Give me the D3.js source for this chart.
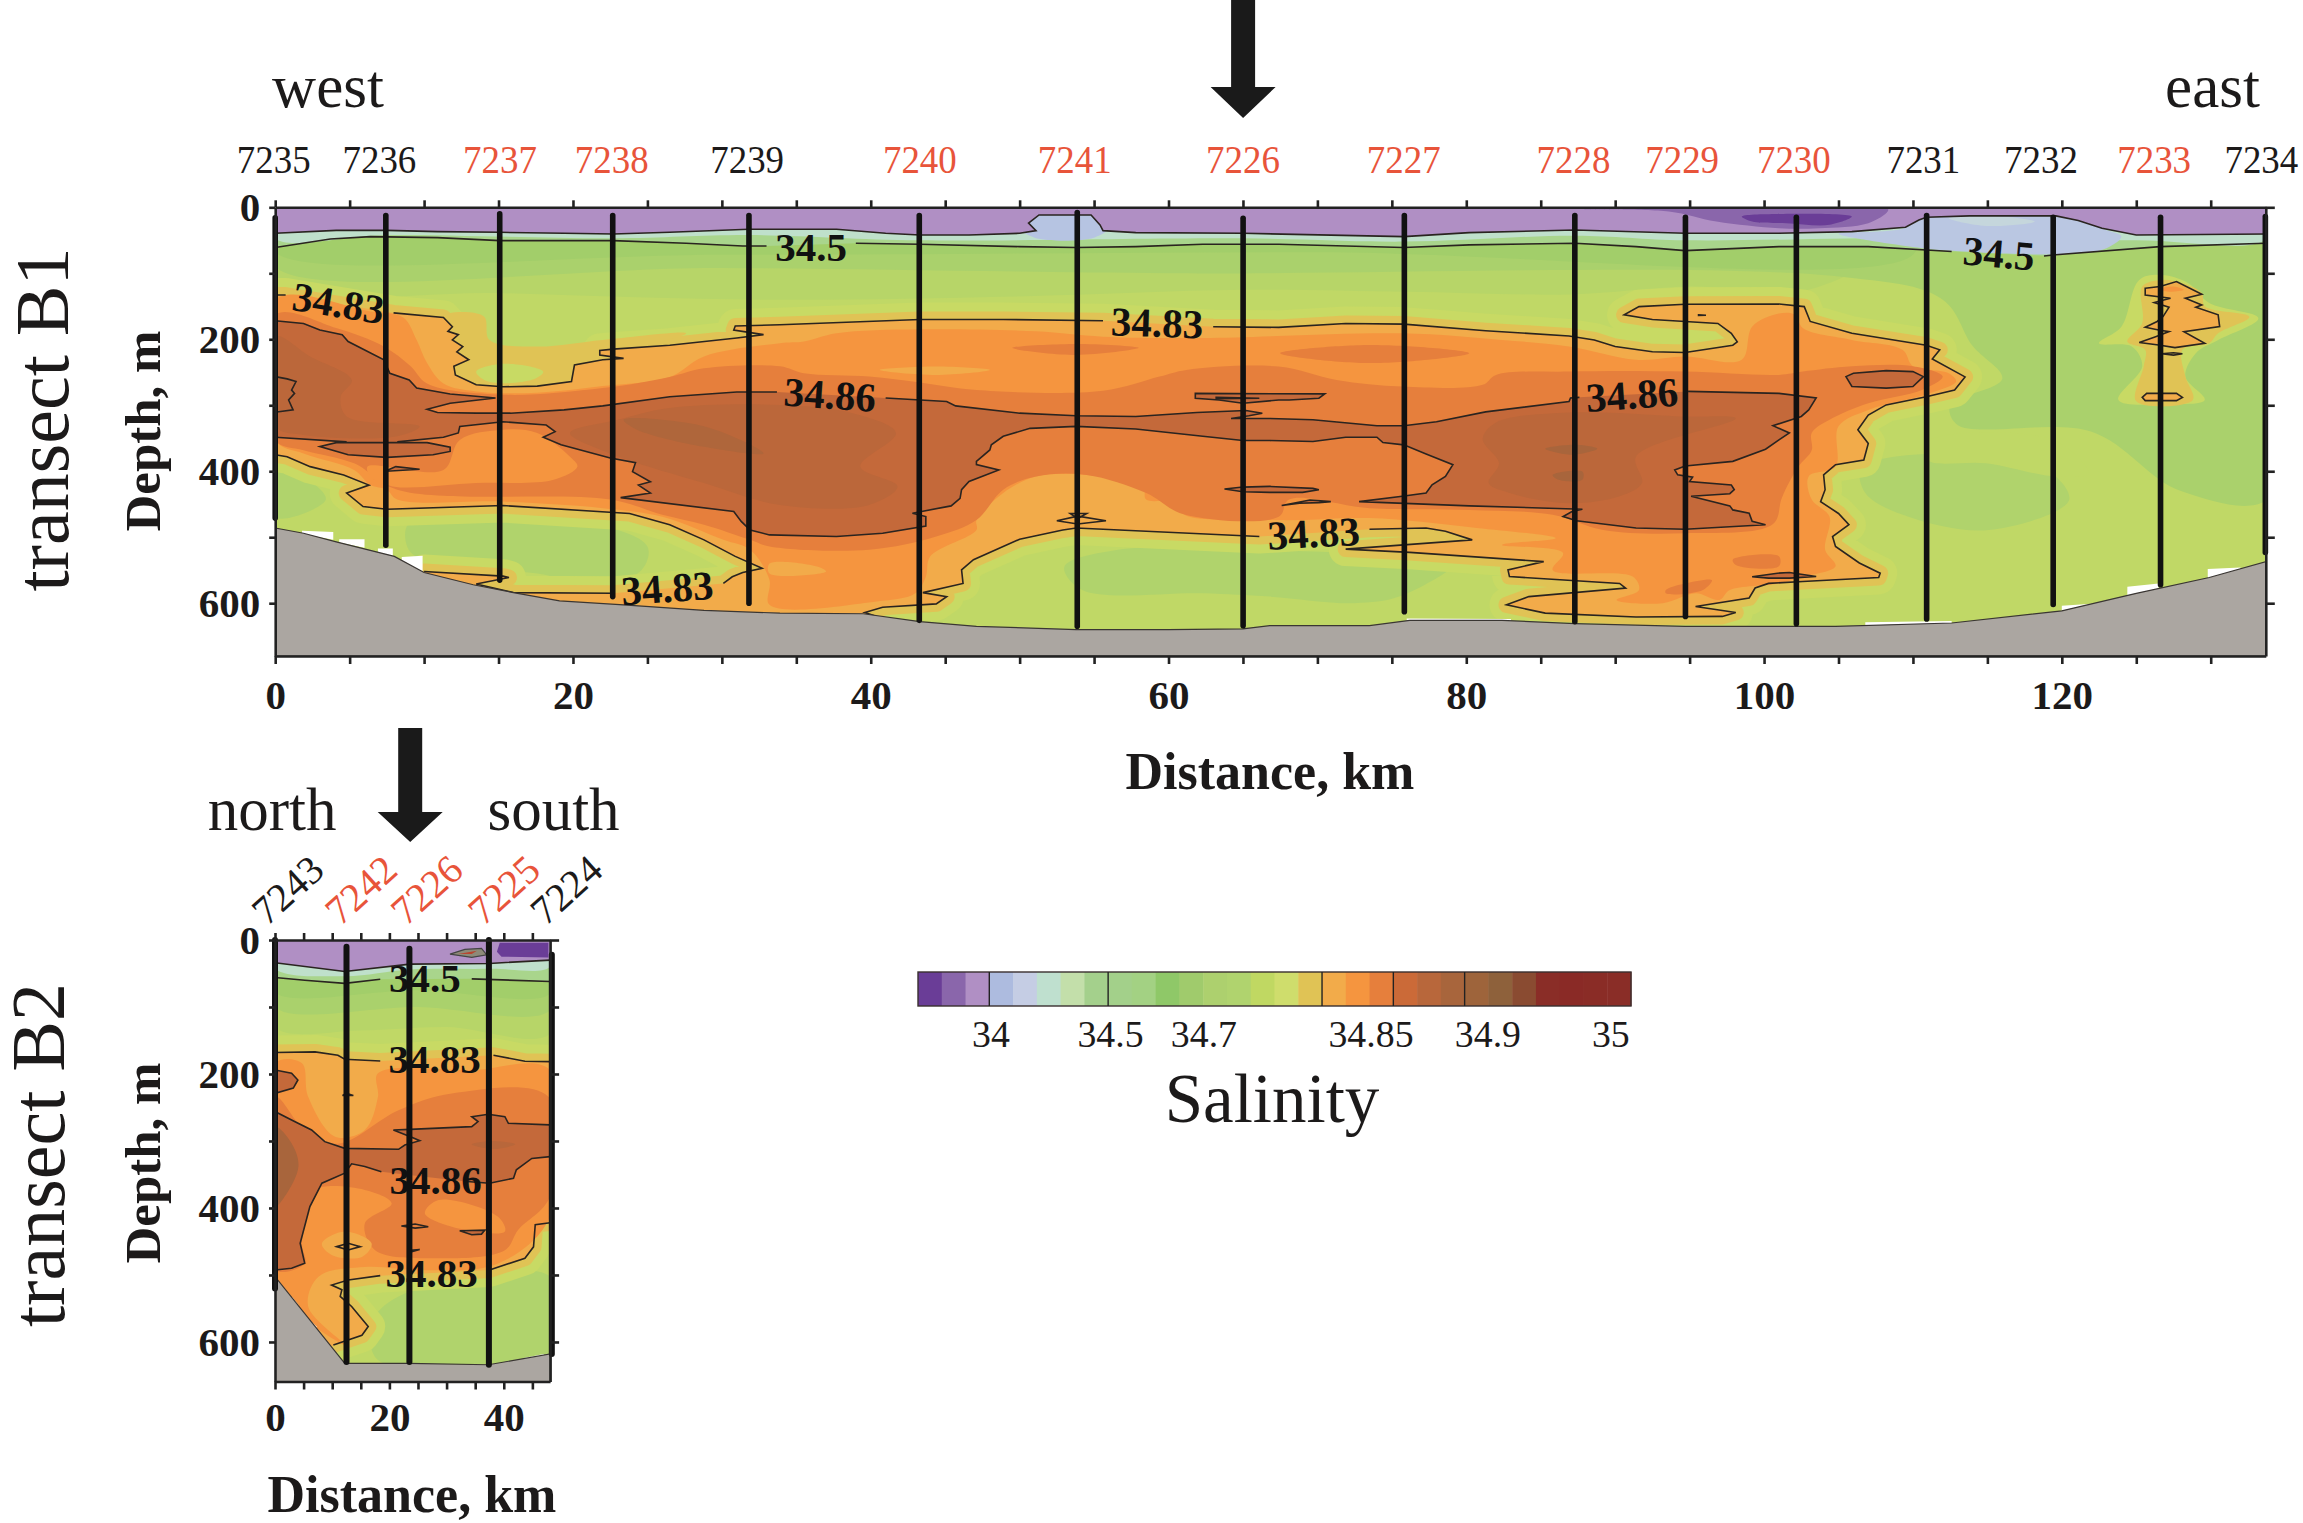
<!DOCTYPE html>
<html><head><meta charset="utf-8">
<script src="https://cdn.jsdelivr.net/npm/d3@7"></script>
<style>html,body{margin:0;padding:0;background:#fff}svg{display:block}text{font-family:"Liberation Serif",serif}</style>
</head><body><svg id="c" width="2303" height="1523"></svg>
<script>
// ---------- legend ----------
const legendColors=["#6a3d97","#8a66ab","#b08fc4","#adbbdf","#c5cde4","#bfe0cf","#c3dfaa","#a4d08c","#a3d08a","#a3d183","#8fc868","#a0cb6c","#add06e","#b0d36e","#c0d862","#cfdd6c","#e0c355","#f2ab4a","#f5953f","#e67f3c","#cb6a38","#b8673b","#a8653c","#9e643b","#8e613b","#8a4b31","#8a2d27","#8a2a26","#8a2c26","#8a2d27"];
const legendDividers=[3,8,17,20,23];
const legendTickIdx=[3.07,8.1,12.03,19.06,23.98,29.15];
const legendTickLabels=["34","34.5","34.7","34.85","34.9","35"];
// ---------- transect B1: stations ----------
const b1Stations=[7235,7236,7237,7238,7239,7240,7241,7226,7227,7228,7229,7230,7231,7232,7233,7234];
const b1Red=[0,0,1,1,0,1,1,1,1,1,1,1,0,0,1,0];
const b1StationKm=[0,7.43,15.08,22.67,31.82,43.26,53.87,65.01,75.84,87.29,94.72,102.17,110.92,119.42,126.63,133.67];
const b1LabelKm=[-0.1,7.0,15.1,22.6,31.7,43.3,53.7,65.0,75.8,87.2,94.5,102.0,110.7,118.6,126.2,133.4];
const b1CastTop=[16,12.6,10,12.6,12.6,12.6,8,16.6,12.6,12.6,15,15,12.6,15,15,14];
const b1CastBottom=[471,512,565,590,600,626,635,634,613,628,620,631,624,602,572,523];
const b1Bathy=[[0,486],[1.9,494],[4.1,507],[8,529],[10,553.5],[13.3,572],[16,584],[19.1,596.5],[23.4,602.5],[28.8,611],[33.9,615],[39.5,616],[43.3,628],[47.1,635],[53.8,640],[60,640],[65,639],[66.8,634],[73.5,634],[76.2,626],[82.4,626],[87.3,631],[94.7,635],[101,635],[104.8,635],[112.6,630],[120,611.6],[125,585],[129.9,561],[133.7,537]];
const b1Gaps=[[[1.8,490],[3.9,492],[3.9,504],[1.8,495]],[[4.3,503],[6,503],[6,516],[4.3,508]],[[6.9,517],[7.9,517],[7.9,530],[6.9,525]],[[8.5,530],[9.9,528],[9.9,555],[8.5,540]],[[129.8,548],[132,546],[132,552],[129.8,565]],[[124.4,575],[126.5,570],[126.5,580],[124.4,590]],[[120,604],[122,601],[122,604],[120,613]],[[106.8,629],[112.6,627],[112.6,632],[106.8,636]],[[76,623],[83,624],[83,628],[76,628]]];
// ---------- B1 isolines (km, depth m), broken at the in-line labels ----------
const b1Iso50A=[[0,61],[3.7,48],[6.4,44.4],[10.9,46],[15.1,50.5],[22.7,50.5],[27.6,54.5],[31.4,58.6],[33,58.6]];
const b1Iso50B=[[39,54.5],[43.3,56],[50,59.6],[53.8,61],[57.8,59.6],[62.3,56],[67.4,56],[75.8,61],[80.2,57],[87.3,54.5],[91.4,59.6],[94.7,65.7],[101,59.6],[107,59.6],[110.9,64.6],[112.6,67]];
const b1Iso50C=[[118.8,73.7],[119.6,72],[126.6,59.6],[133.7,54.5]];
const b1Surface=[[0,39.4],[4.1,35],[7.5,35],[10.9,36.9],[15.1,37.9],[19.4,39.4],[22.7,40.4],[26.5,37.9],[31.8,33.3],[37.7,33.3],[41,39.4],[43.3,42],[46.6,42],[50,39.4],[51.1,35.4],[50.6,24],[51.3,11.6],[54.8,11.6],[55.4,26.8],[55.6,35.4],[57.8,38.4],[65,39.4],[75.8,44.4],[80.2,38.4],[87.3,34.3],[94.7,39.4],[101,39.4],[105.9,36.9],[109.5,30.3],[110.4,19.2],[110.9,15],[113.8,13],[119.6,13],[121.1,20],[122.7,31.8],[125,41.9],[133.7,40.4]];
const b1Pale=[[0,47],[7.5,42],[22.7,47],[31.8,42],[43.3,50],[65,47],[75.8,52],[87.3,43],[94.7,50],[110,46],[125,50],[133.7,48]];
const b1A=[[0,133],[0.7,133]];
const b1B=[[7.95,160],[11.3,167],[11.9,181],[11.6,188],[12.3,193],[11.9,201],[12.6,211],[12.2,219],[13,231],[12,241],[12.1,254],[13.5,269],[15.3,272],[17.6,271],[19.9,264],[20.1,239],[22,231],[23.4,229],[21.8,224],[21.8,217],[22.7,215],[26.5,209],[31,198],[32.8,193],[30.8,186],[30.9,180],[33.9,178],[43.3,170],[48.9,170],[55.6,172]];
const b1C=[[63,181],[67.4,182],[71.9,176],[75.8,177],[81.3,187],[86.9,195],[88.6,201],[90,211],[92.5,219],[94.7,220],[97.9,209],[98.2,204],[97.8,191],[96.9,176],[92.5,170],[90.6,163],[91.6,150.5],[94.7,147],[101,146.5],[102.7,150.5],[103.1,173],[105.9,191],[110.9,209],[111.8,216],[111.3,230],[113.5,257],[112.8,277],[110.9,287],[108.2,299.5],[107,315],[106.3,337],[107,358],[106.7,383],[104.8,390],[104,405.5],[104.1,428],[103.8,446],[105,464],[105.7,481],[104.6,499],[104.8,514],[106.4,539],[107.8,554.5],[107.7,561],[102.6,567],[100.3,570],[99.4,577],[99,592],[95.4,605],[98.1,614],[97.2,620],[91.4,621],[85.3,615],[82.7,602.5],[84.2,590],[90.7,577],[90.3,570],[82.9,559.6],[82.8,549.5],[85.2,537],[76.2,523],[71.9,518],[80.4,504],[78.6,491],[77.3,486],[73.5,488]];
const b1D=[[66.1,499],[56.7,489],[53.8,486],[52.9,489],[50,503],[46.9,534],[46.1,549.5],[46.2,570],[43.5,584],[45.1,590],[44.4,601],[40.8,606],[39.6,614],[40.4,620]];
const b1BedClosure=[[40,655],[9,655]];
const b1E=[[10,552],[15.3,559],[15.7,561],[13.5,571],[16,584],[22.7,585]];
const b1F=[[30.1,570],[30.7,560],[31.4,553.5],[32.7,547],[30.9,529],[28.8,504],[26.5,481],[23.8,464],[15.3,452],[7.5,457.6],[5.9,453.5],[4.8,433],[6.3,421],[4.6,405.6],[2.35,393],[0.8,378],[0,375]];
const b1H=[[0,172],[1.9,176],[3,186],[4.5,193],[4.9,203.5],[7.3,231],[7.7,251.5],[9,261.6],[9.5,274],[11.75,283],[14.8,289],[11.75,297],[10.2,306],[10.9,311],[13.5,312],[15.8,312],[19.4,307],[22,301],[26.5,287],[31,280],[33.7,280]];
const b1J=[[41,289],[45.1,294.4],[45.7,301],[50,312],[53.8,316],[57.8,317],[61.9,311],[65.2,308],[66.3,312],[65.4,316],[64.2,320],[66.8,320],[69.7,322],[74,331],[75.8,331],[78,325],[81.3,310],[86.9,294.4],[87,289],[87.6,288]];
const b1K=[[94.9,279],[101,282],[103.5,289],[103,307],[102.5,317],[100.6,331],[101.7,342],[101,352.5],[100.1,366.7],[97.9,385],[94.7,392],[94,398],[94.2,405.5],[95.2,409],[95,415.6],[97.8,420.7],[98,428],[97.7,434],[95.1,438],[97.7,452.5],[97.9,458.6],[99,463.6],[99.2,476],[100.1,481],[94.7,488],[91.4,486],[87.4,475],[86.5,468.7],[87.1,461],[87.8,457.6],[80.2,452.5],[72.8,446],[75.7,438],[77.3,433],[77.7,420.7],[78.6,408],[79.1,390],[77.3,374],[75.8,360],[74.4,356.6],[74,348.5],[71.9,348.5],[69.7,355],[66.8,353.5],[65,353.5],[62.3,347],[57.8,336],[53.8,332],[50.7,335],[48.9,347],[48.1,360],[48,367.7],[47.1,385],[47.1,390],[48.6,398],[46.6,415.6],[46.1,428],[46,441],[45.4,452.5],[42.8,463.6],[43.7,468.7],[43.7,483],[40.8,494],[37.7,499],[33.2,496.5],[31.9,489],[31.3,476],[30.8,461],[23.2,440],[25.2,433],[24.4,421],[25.2,416],[24,400.5],[24.2,387],[22.5,380],[19.2,360],[18,348.5],[18.8,340],[18.2,330],[15.3,325],[12.4,332],[12.3,342],[11.3,348.5],[8.2,355.5]];
const b1Lens=[[10.2,356.6],[11.75,363.6],[11.75,370],[10.6,375],[7.5,379],[4.9,375],[3,362.6],[4.1,356.6]];
const b1L=[[4.8,355.5],[0,348.5]];
const b1Core=[[0,256.6],[0.8,260],[1.4,264],[1.1,277],[1.3,282],[0.9,292],[1.2,307],[0,310.6]];
const b1Small86=[
 [[7.5,399],[8.1,393],[9.7,397],[7.5,400]],
 [[61.8,282],[61.8,289.4],[63.4,292],[65,297],[67.4,292],[68.1,292],[70.1,289.4],[70.5,282.8]],
 [[63.76,427],[65,424],[66.8,423],[69.7,426],[70.1,428],[69,432],[66.8,432],[65,431]],
 [[67.6,452],[69.5,443.5],[70.9,446],[70.1,447.5],[68.8,448.5]],
 [[105.5,256.6],[106,251.5],[108.2,247.5],[110,249],[110.7,256.6],[110,271.6],[108.2,274],[105.9,271.6]],
 [[99.2,560],[100.9,554.5],[101.7,553.5],[103.5,559.6],[101.7,562],[100.3,562]]];
const b1SmallLines=[[[63.2,288],[66.1,289.4],[63.2,290]],[[52.5,475],[53.9,468],[55.8,475],[53.9,480]],[[53.4,464],[54.5,464],[53.9,471.6]],[[95.6,163],[96.1,163.6],[95.6,163.8]]];
const b1East83=[[125.6,122.7],[126.6,120],[127.7,112.6],[129.4,131.8],[128.3,137.9],[129.4,148],[129,151.5],[130.5,163],[130.6,180.8],[128.2,188.4],[129.6,206],[127.6,212.6],[126.5,208.6],[125.2,205],[126.3,196],[127.2,188.4],[126.5,186],[125.6,181.8],[126.4,173],[126.8,165.6],[127.2,151.5],[126.2,144.4],[127.3,137.9],[125.6,132.8]];
const b1East83B=[[125.4,288],[125.7,282],[127.7,282],[128.1,288],[127.7,293],[125.6,293]];
const b1East83C=[[126.7,222],[127.5,220.5],[128.1,222],[127.5,224]];
// ---------- B1 colour bands, [colour, outline] painted back to front ----------
const b1BackBands=[
 ["#b7d568",[[0,30],[110,30],[103,125],[95,120],[87,132],[76,128],[65,125],[50,135],[33,140],[15,130],[0,118]]],
 ["#aad16c",[[0,30],[134,30],[134,440],[128,430],[122,340],[113,330],[112.5,300],[116,260],[114,210],[112,140],[105,105],[60,100],[30,92],[0,90]]],
 ["#a2ce6a",[[0,30],[110,30],[110,72],[70,68],[30,72],[0,68]]],
 ["#b0d36c",[[106.6,393],[118.2,388],[120.5,443],[115.1,489],[109.7,469],[106.8,433]]],
 ["#b0d36c",[[9,478],[21,478],[25,514],[24.6,550],[21.5,572],[17.6,555],[10.9,540],[9,520]]],
 ["#b0d36c",[[0,383],[2,408],[3.4,443],[0,470]]],
 ["#b0d36c",[[53,545],[56.6,519],[67.4,520],[73.5,528],[77,548],[79,545],[75.5,590],[72.5,600],[66.8,590],[62.3,585],[54.2,580]]]];
const b1EastHalo1=[[122.5,206],[124,181],[125.2,110],[126.7,102.5],[128.5,115],[129.9,145],[133.2,168],[130.5,201],[129,221],[128.3,256.6],[129.6,292],[127.2,298],[123.8,292],[125.4,241],[124.7,211]];
const b1EastHalo2=[[124.4,203.5],[125.4,175.6],[125.4,120],[126.7,110],[128.1,115],[129.4,130],[129.6,150],[132.6,166],[130.5,191],[129.9,206],[128.1,216],[128.3,256.6],[128.8,292],[125,294],[125.5,241],[125.6,216]];
const b1Notch=[[11,168],[14,165],[14.4,201],[17.6,211],[22,201],[27.6,191],[22,231],[19.9,264],[13.5,269],[12,241]];
const b1NotchCore=[[13.5,249],[15.3,237],[18,249],[17.3,261],[14.3,264]];
const b1Orange=[[0,140],[6.4,158],[8.6,167],[9.5,201],[10.2,236],[11.3,267],[13.5,279],[17.6,281],[22,271],[26.5,257],[28.8,226],[33.9,206],[35.5,203.5],[37.7,191],[43.3,185],[51.1,188],[55.6,196],[62.3,198],[75.7,191],[82.4,201],[86.9,211],[91.4,231],[94.7,226],[98.5,231],[99.2,181],[101,161],[102.1,163],[102.6,183],[105.9,201],[109.3,216],[110,241],[112.4,251.5],[112.9,264],[111.1,282],[107,307],[105,332],[104.8,393],[103,408],[103.2,443],[104.4,469],[104.1,519],[104.8,544],[102.6,560],[101,570],[97.7,580],[97,595],[95.4,585],[93.2,600],[90.1,595],[91.6,580],[91.2,560],[85.8,549.5],[86.5,524],[82.4,511.6],[86,501.5],[80.7,486],[73.5,471],[67.4,474],[61,464],[61.6,443],[58.5,443],[58.3,423],[54.5,405.6],[51.1,408],[48.9,433],[47.1,474],[47.1,489],[44,529],[43.7,560],[43,585],[40.4,597.5],[33.2,602.5],[33.2,565],[31.9,519],[30.1,504],[26,469],[22,456],[15.3,446],[8.2,443],[7.5,428],[6.4,421],[5.3,398],[1.9,373],[0,352.5]];
const b1DarkOrange=[[0,163],[4.1,183],[7.3,211],[9.1,241],[10.2,267],[15.3,284],[22,274],[26.5,257],[28.8,244],[33.9,241],[35.5,251.5],[39.9,256.6],[43.3,265.6],[47.1,277],[55.6,278],[59.4,256.6],[61.2,246.5],[67.4,241.4],[71.3,261.6],[75.7,271.7],[81.1,269],[82,254],[86.9,249],[94.7,249],[101,254],[102.6,249],[105.9,241],[110,241],[112,256.6],[110.6,276.8],[107,297],[104.4,322],[103.2,342],[103.2,368],[102.3,393],[101.2,440],[100.6,480],[94.7,494],[89.2,489],[85.8,466],[80.2,458.6],[73.5,456],[68.1,443],[67.4,469],[61,465],[58.5,433],[54.5,405.6],[51.1,408],[48.9,428],[47.1,474],[44.4,499],[39.9,519],[33.2,514],[31.9,504],[28.8,481],[26,466],[22.5,443],[8.2,428],[5.3,388],[1.9,368],[0,352.5]];
const b1Patches=[
 ["#f5953f",[[12.4,352.5],[15.3,337],[17.6,342],[19.8,378],[20.3,393],[18.7,413],[13.5,418],[7.9,423],[6.4,408],[6.2,393],[11.3,398]]],
 ["#e67f3c",[[67.5,221],[73.5,208.6],[80.2,221],[73.5,236]]],
 ["#e67f3c",[[49.5,213],[53.8,207],[58,213],[53.8,223.7]]],
 ["#f2ab4a",[[40.6,246.5],[44.4,241.4],[48,246.5],[44.4,254]]],
 ["#e67f3c",[[93.4,580],[94.7,570],[96.5,565],[95.9,580],[93.4,585]]],
 ["#e67f3c",[[97.9,534],[101,529],[101,544],[98.1,542]]],
 ["#f2ab4a",[[33.2,540],[36.5,545],[37,552],[33.2,555]]]];
const b1Deep=[
 ["#bb673a",[[0,196],[2.35,226],[5.15,261.6],[4.4,287],[4.8,317],[9.7,332],[8.2,347],[1.9,345],[0,332]]],
 ["#bb673a",[[23,322],[26.5,304],[33.9,299.5],[38.8,312],[41.7,342],[39.3,393],[41.8,423],[39.9,451],[33.9,451],[28.8,418],[22.5,373],[19.8,342]]],
 ["#af663b",[[23.4,322],[28.8,332],[32.8,373],[28.8,363],[24.3,337]]],
 ["#bb673a",[[81.1,351],[82,326],[86.9,311],[94.7,317],[98.1,320],[91.4,378],[91.8,418],[90.3,438],[86.9,448.5],[82.9,433],[81.5,418],[82.2,388]]],
 ["#a8653c",[[85.3,366],[87.4,360],[88.8,366],[87.1,375]]],
 ["#a8653c",[[85.8,405.6],[87.8,400.5],[87.8,413],[86.2,413]]]];
const b1LowLime=[[111,355],[119.4,352.5],[121.8,403],[119.6,408],[114.9,388],[111,383]];
const b1BlueA=[[50,30],[51,8],[55,8],[56,30],[55,46],[51,46]];
const b1BlueB=[[105,40],[109.5,31],[110.5,10],[121,10],[122.7,32],[124,44],[123,62],[120,71],[112.6,66],[110,60],[107,50]];
const b1BlueC=[[112.4,16.6],[116,14],[118.2,21.7],[114.9,28.3]];
const b1Purple2=[[87.8,3],[93.6,6.5],[96.8,21.7],[101,31.8],[103.7,31.8],[107,24],[108.3,6.5],[108.3,1.5]];
const b1Purple3=[[98.5,14],[100.9,10],[105.9,14],[104.4,26.5],[101.5,24],[99.2,21.7]];
const b1Labels=[["34.5",36,60,0],["34.83",4.1,145,9],["34.83",59.2,175,2],["34.86",37.2,284,4],["34.86",91.2,284,-4],["34.83",69.8,494,-3],["34.83",26.4,577,-4],["34.5",115.7,70,5]];
const b1XTicks=d3.range(0,135,5), b1XLabels=[0,20,40,60,80,100,120];
const depthTicks=[0,100,200,300,400,500,600], depthLabels=[0,200,400,600];
// ---------- transect B2 ----------
const b2Stations=[7243,7242,7226,7225,7224];
const b2Red=[0,1,1,1,0];
const b2StationKm=[0,12.5,23.5,37.4,48.4];
const b2CastTop=[0,10,13,0,22];
const b2CastBottom=[520,630,630,634,618];
const b2LabelKm=[3.8,16.6,28.1,41.6,52.5];
const b2Bathy=[[0,502.5],[12.2,632],[23.3,632],[37.3,634],[48.1,618]];
const b2Gaps=[[[3,533],[4.2,546],[3.6,546],[3,540]],[[6,567],[7.4,578],[6.8,578],[6,574]],[[9,600],[10.2,612],[9.6,612],[9,606]],[[43.5,624],[47,618],[47,620],[43.5,626]]];
const b2Surface=[[0,34],[12.2,47],[23.6,36],[37.5,35],[48.1,30]];
const b2Pale=[[0,42],[12.2,54],[23.6,44],[37.5,43],[48.1,40]];
const b2Iso50A=[[0,56],[5.2,60],[12.2,64.7],[18.4,58.7]];
const b2Iso50B=[[34.4,58],[48.1,62]];
const b2A=[[0,168],[7,167],[11,172],[12.2,178],[18.4,180.6]];
const b2B=[[38.2,172],[43.7,181],[48.1,181.6]];
const b2C=[[48.1,422],[45.5,425],[45.2,458],[43.7,475],[37.5,492.5]];
const b2D=[[18.4,501],[12.8,507.5],[9.9,515],[11.7,522],[11.4,532],[13.4,547],[16.3,577],[15.2,590],[10.2,604.5]];
const b2BedClosure=[[5,650]];
const b2H=[[0,256],[2.9,268.7],[6.4,283.6],[8.7,301],[12.2,311],[21.6,312.4],[22.7,306],[25.3,299.5],[23.9,294.5],[20.7,283.6],[23.6,282.6],[34.4,278.6],[35.5,271],[34.4,263.7],[37.3,260],[40.2,263.7],[40.8,273.6],[48.1,276]];
const b2J=[[48.1,323.4],[44.9,326],[42.2,343],[41.7,355.7],[37.5,363],[33,360]];
const b2K=[[18.6,345.8],[15.7,338],[13.4,334],[12.2,348],[8.2,363],[6.1,398],[4.4,452.7],[5.2,482.6],[2.9,490],[0,492.5]];
const b2Small86=[[[0,194],[2.9,199],[4,209],[3.2,221],[0,229]],[[32.3,434],[36.7,433],[36.1,439],[34.4,440]]];
const b2SmallLines=[[[10.8,457.7],[12.8,452.7],[14.9,457.7],[12.8,462.6]],[[22.1,427],[24.5,424],[26.8,428],[24.5,430]],[[23.6,463],[25.3,462],[23.6,466]],[[11.8,232],[12.5,229],[13.7,232]]];
const b2BackBands=[
 ["#b7d568",[[0,30],[48.1,30],[48.1,140],[30,130],[15,135],[0,130]]],
 ["#aad16c",[[0,30],[48.1,30],[48.1,105],[25,100],[0,100]]],
 ["#a2ce6a",[[0,30],[48.1,30],[48.1,80],[25,75],[0,78]]],
 ["#b0d36c",[[21.6,532],[48.1,502.5],[48.1,617],[37.9,632],[18,627],[16.9,572]]]];
const b2Orange=[[0,184],[4.7,184],[5.8,234],[10.5,293.5],[15.7,283.6],[18,234],[18,199],[34.4,194],[48.1,194],[48.1,413],[39,483],[26.2,493],[15.7,488],[7.6,502.5],[5.8,547],[12.2,604],[4.1,557],[0,503]];
const b2DarkOrange=[[21.6,254],[30.9,229],[47.8,234],[48.1,383],[42.5,433],[40.2,463],[27.4,475],[17.5,463],[15.7,423],[20.4,393],[15.7,373],[7,373],[5.8,408],[4.7,453],[5.2,483],[0,492.5],[0,234],[5.2,284],[11,304]];
const b2Patches=[["#f2ab4a",[[8.2,453],[12.2,435],[16.9,453],[15.2,473],[9.9,470]]],["#f5953f",[[28.6,388],[39,413],[40.2,435],[30.9,428],[26.2,408]]]];
const b2Deep=[["#a8653c",[[0,278.6],[2.9,303.5],[4.1,338],[1.7,383],[0,398]]],["#b8673b",[[34.4,305],[38,300],[42,305],[38,312]]]];
const b2PurpleBox=[[39.3,4],[47.8,4],[47.8,26],[39.6,25],[38.8,17.4]];
const b2Blob=[[30.6,21],[33.2,14],[36.1,12.4],[37,22],[34.4,26]];
const b2BlobCore=[[32,21],[35.3,16],[34.4,21]];
const b2Labels=[["34.5",26.2,57,0],["34.83",27.9,177,0],["34.86",28.1,358,0],["34.83",27.4,497,0]];
const b2XTicks=d3.range(0,50,5), b2XLabels=[0,20,40];

// ---------- drawing ----------
const svg=d3.select("#c");
svg.append("rect").attr("width",2303).attr("height",1523).attr("fill","#fff");
const INK="#1c1a1a", RED="#e8543a";
function label(g,t,x,y,o={}){
  const tr=`translate(${x},${y})`+(o.rotate?` rotate(${o.rotate})`:"")+(o.sx?` scale(${o.sx},1)`:"");
  return g.append("text").text(t).attr("transform",tr).attr("text-anchor",o.anchor||"middle")
   .attr("font-size",o.size||40).attr("font-weight",o.weight||"normal").attr("fill",o.fill||INK);
}
function panel(id,x,y,P){
  const root=svg.append("g");
  const clip=id+"clip";
  root.append("clipPath").attr("id",clip).append("rect").attr("x",x.range()[0]).attr("y",y.range()[0]).attr("width",x.range()[1]-x.range()[0]).attr("height",y.range()[1]-y.range()[0]);
  const f=root.append("g").attr("clip-path",`url(#${clip})`);
  const sharp=d3.line().x(d=>x(d[0])).y(d=>y(d[1]));
  const sharpClosed=d3.line().x(d=>x(d[0])).y(d=>y(d[1])).curve(d3.curveLinearClosed);
  const soft=d3.line().x(d=>x(d[0])).y(d=>y(d[1])).curve(d3.curveCatmullRomClosed.alpha(.5));
  const band=(c,p)=>f.append("path").attr("d",soft(p)).attr("fill",c);
  const edge=(c,p)=>f.append("path").attr("d",sharpClosed(p)).attr("fill",c);
  const xmax=x.domain()[1], ymax=y.domain()[1];
  f.append("rect").attr("x",x(0)).attr("y",y(0)).attr("width",x(xmax)-x(0)).attr("height",y(ymax)-y(0)).attr("fill","#c0d866");
  P.back.forEach(b=>band(b[0],b[1]));
  P.before.forEach(fn=>fn(f,band,edge));
  [["#c8da64",34],["#e0c355",16]].forEach(h=>{
    f.append("path").attr("d",sharpClosed(P.body)).attr("fill",h[0]).attr("stroke",h[0]).attr("stroke-width",h[1]).attr("stroke-linejoin","round");
  });
  P.afterHalo.forEach(b=>band(b[0],b[1]));
  edge("#f2ab4a",P.body);
  band("#f5953f",P.orange);
  band("#e67f3c",P.dark);
  P.patches.forEach(b=>band(b[0],b[1]));
  edge("#c4693a",P.core);
  P.deep.forEach(b=>band(b[0],b[1]));
  P.small.forEach(s=>edge("#c4693a",s));
  const top=[[0,0],[xmax,0]];
  f.append("path").attr("d",sharpClosed(top.concat(P.iso50.slice().reverse()))).attr("fill","#a9d58c");
  f.append("path").attr("d",soft(top.concat(P.pale.slice().reverse()))).attr("fill","#bfe0cb");
  P.surfaceExtras.forEach(b=>band(b[0],b[1]));
  f.append("path").attr("d",sharpClosed(top.concat(P.surface.slice().reverse()))).attr("fill","#b08fc4");
  P.surfaceTop.forEach(fn=>fn(f,band,edge));
  const lines=f.append("g").attr("fill","none").attr("stroke","#2a2420").attr("stroke-width",1.6);
  P.lines.forEach(l=>lines.append("path").attr("d",sharp(l)));
  P.closed.forEach(l=>lines.append("path").attr("d",sharpClosed(l)));
  P.gaps.forEach(g=>f.append("path").attr("d",sharpClosed(g)).attr("fill","#fff"));
  const bed=P.bathy.concat([[xmax,P.bathy[P.bathy.length-1][1]],[xmax,ymax],[0,ymax]]);
  f.append("path").attr("d",sharpClosed(bed)).attr("fill","#aba6a1").attr("stroke","#3a3633").attr("stroke-width",1.2);
  root.append("g").selectAll("line").data(P.km).join("line")
    .attr("x1",d=>x(d)).attr("x2",d=>x(d)).attr("y1",(d,i)=>y(P.castTop[i])).attr("y2",(d,i)=>y(P.castBottom[i]))
    .attr("stroke","#111").attr("stroke-width",P.castWidth).attr("stroke-linecap","round");
  const ticks=g=>{g.selectAll("path,line").attr("stroke","#222").attr("stroke-width",P.axisWidth);
    g.selectAll("text").attr("font-family",'"Liberation Serif",serif').attr("font-weight","bold").attr("font-size",41).attr("fill",INK)};
  const xf=d=>P.xLabels.includes(d)?d:"";
  const yf=d=>depthLabels.includes(d)?d:"";
  root.append("g").attr("transform",`translate(0,${y(ymax)})`).call(d3.axisBottom(x).tickValues(P.xTicks).tickFormat(xf).tickSize(8).tickSizeOuter(0).tickPadding(P.xPad)).call(ticks);
  root.append("g").attr("transform",`translate(0,${y(0)})`).call(d3.axisTop(x).tickValues(P.xTicks).tickFormat("").tickSize(7).tickSizeOuter(0)).call(ticks);
  root.append("g").attr("transform",`translate(${x(0)},0)`).call(d3.axisLeft(y).tickValues(depthTicks).tickFormat(yf).tickSize(6).tickSizeOuter(0).tickPadding(9)).call(ticks);
  root.append("g").attr("transform",`translate(${x(xmax)},0)`).call(d3.axisRight(y).tickValues(depthTicks).tickFormat("").tickSize(P.rightTick).tickSizeOuter(0)).call(ticks);
  P.labels.forEach(l=>label(root,l[0],x(l[1]),y(l[2])+14,{size:P.labelSize,weight:"bold",rotate:l[3],fill:"#111"}));
  return root;
}
const x1=d3.scaleLinear().domain([0,133.7]).range([275.2,2265.8]);
const y1=d3.scaleLinear().domain([0,680]).range([207.3,656]);
const iso1=b1Iso50A.concat(b1Iso50B,b1Iso50C);
panel("b1",x1,y1,{
 back:b1BackBands,
 before:[(f,band)=>{band("#c0d866",b1LowLime);band("#c8da64",b1EastHalo1);band("#e0c355",b1EastHalo2);}],
 body:[].concat(b1A,b1B,b1C,b1D,b1BedClosure,b1E,b1F),
 afterHalo:[["#e0c355",b1Notch],["#c8da64",b1NotchCore]],
 orange:b1Orange,dark:b1DarkOrange,patches:b1Patches,
 core:[].concat(b1H,b1J,b1K,b1Lens,b1L),deep:b1Deep,small:b1Small86,
 iso50:iso1,pale:b1Pale,
 surfaceExtras:[["#b6c4e2",b1BlueA],["#bac7e2",b1BlueB],["#c5d6dc",b1BlueC]],
 surface:b1Surface,
 surfaceTop:[(f,band,edge)=>{band("#8a66ab",b1Purple2);band("#6a3d97",b1Purple3);
   edge("#f2ab4a",b1East83);edge("#f2ab4a",b1East83B);f.append("path").attr("d",d3.line().x(d=>x1(d[0])).y(d=>y1(d[1])).curve(d3.curveCatmullRomClosed)([[126.5,124],[127.5,120],[128.2,125],[127.2,128]])).attr("fill","#f5953f");}],
 lines:[b1Iso50A,b1Iso50B,b1Iso50C,b1Surface,b1A,b1B,b1C,b1D,b1E,b1F,b1H,b1J,b1K,b1L],
 closed:[b1Lens,b1Core].concat(b1Small86,b1SmallLines,[b1East83,b1East83B,b1East83C]),
 gaps:b1Gaps,bathy:b1Bathy,km:b1StationKm,castTop:b1CastTop,castBottom:b1CastBottom,castWidth:5.6,axisWidth:2.6,
 xTicks:b1XTicks,xLabels:b1XLabels,xPad:16,rightTick:9,labels:b1Labels,labelSize:41
});
const s1=svg.append("g");
b1Stations.forEach((s,i)=>label(s1,s,x1(b1LabelKm[i]),173,{size:41,sx:.9,fill:b1Red[i]?RED:INK}));
label(s1,"west",328,107,{size:61});
label(s1,"east",2212.5,107,{size:61});
label(s1,"Distance, km",1270,789,{size:52,weight:"bold"});
label(s1,"Depth, m",159.5,431,{size:51,weight:"bold",rotate:-90});
label(s1,"transect B1",68,419.5,{size:76,rotate:-90});
function arrow(g,cx,yTop,yHead,yTip){
  const p=d3.path();p.moveTo(cx-12,yTop);p.lineTo(cx+12,yTop);p.lineTo(cx+12,yHead);p.lineTo(cx+32.5,yHead);p.lineTo(cx,yTip);p.lineTo(cx-32.5,yHead);p.lineTo(cx-12,yHead);p.closePath();
  g.append("path").attr("d",p.toString()).attr("fill","#1a1a1a");
}
arrow(s1,x1(b1StationKm[7]),0,87,118);
const x2=d3.scaleLinear().domain([0,48.1]).range([275,550.1]);
const y2=d3.scaleLinear().domain([0,659]).range([940,1381.5]);
panel("b2",x2,y2,{
 back:b2BackBands,before:[],
 body:[].concat(b2A,b2B,b2C,b2D,b2BedClosure),
 afterHalo:[],orange:b2Orange,dark:b2DarkOrange,patches:b2Patches,
 core:[].concat(b2H,b2J,b2K),deep:b2Deep,small:b2Small86,
 iso50:b2Iso50A.concat(b2Iso50B),pale:b2Pale,surfaceExtras:[],surface:b2Surface,
 surfaceTop:[(f,band,edge)=>{edge("#6a3d97",b2PurpleBox);
   f.append("path").attr("d",d3.line().x(d=>x2(d[0])).y(d=>y2(d[1])).curve(d3.curveLinearClosed)(b2Blob)).attr("fill","#8d8a78").attr("stroke","#444").attr("stroke-width",1.2);
   edge("#b8452f",b2BlobCore);}],
 lines:[b2Iso50A,b2Iso50B,b2Surface,b2A,b2B,b2C,b2D,b2H,b2J,b2K],
 closed:b2Small86.concat(b2SmallLines),
 gaps:b2Gaps,bathy:b2Bathy,km:b2StationKm,castTop:b2CastTop,castBottom:b2CastBottom,castWidth:6,axisWidth:2.6,
 xTicks:b2XTicks,xLabels:b2XLabels,xPad:12,rightTick:9,labels:b2Labels,labelSize:41
});
const s2=svg.append("g");
b2Stations.forEach((s,i)=>{
  label(s2,s,x2(b2LabelKm[i]),900,{size:40,rotate:-42,fill:b2Red[i]?RED:INK});
});
label(s2,"north",272,830,{size:61});
label(s2,"south",553.5,830,{size:61});
label(s2,"Distance, km",412,1512,{size:52,weight:"bold"});
label(s2,"Depth, m",159.5,1163,{size:51,weight:"bold",rotate:-90});
label(s2,"transect B2",64,1155,{size:76,rotate:-90});
arrow(s2,x2(b2StationKm[2])+0.8,728,812,842);
const lg=svg.append("g");
const lx=d3.scaleBand().domain(d3.range(legendColors.length)).range([918,1631]).paddingInner(0).paddingOuter(0);
const li=d3.scaleLinear().domain([0,legendColors.length]).range([918,1631]);
lg.selectAll("rect").data(legendColors).join("rect").attr("x",(d,i)=>lx(i)).attr("y",972).attr("width",lx.bandwidth()+.5).attr("height",34).attr("fill",d=>d);
lg.append("rect").attr("x",918).attr("y",972).attr("width",713).attr("height",34).attr("fill","none").attr("stroke","#3a3030").attr("stroke-width",1.4);
legendDividers.forEach(i=>lg.append("line").attr("x1",li(i)).attr("x2",li(i)).attr("y1",972).attr("y2",1006).attr("stroke","#222").attr("stroke-width",1.4));
legendTickLabels.forEach((t,i)=>label(lg,t,li(legendTickIdx[i]),1047,{size:39,sx:.97}));
label(lg,"Salinity",1272,1122,{size:69});
</script></body></html>
